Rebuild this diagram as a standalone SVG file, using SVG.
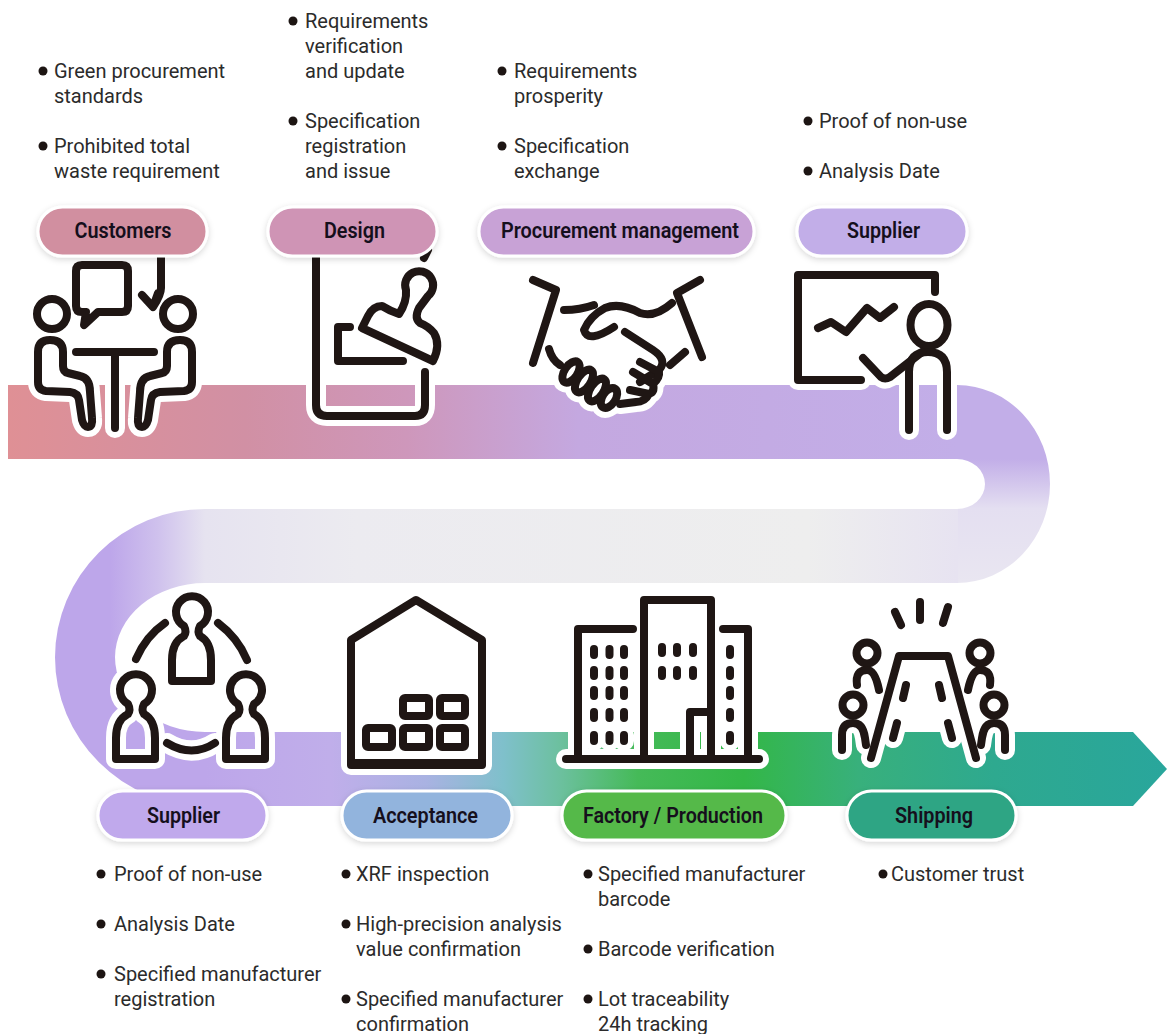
<svg xmlns="http://www.w3.org/2000/svg" width="1170" height="1034" viewBox="0 0 1170 1034">
<style>
text{font-family:Roboto,"Liberation Sans",sans-serif}
.t{font-size:20px;font-weight:400;fill:#2b2b2b}
.l{font-size:22px;font-weight:600;fill:#150f1c;text-anchor:middle}
.b{fill:#1d1513}
.p{stroke:#fff;stroke-width:3;filter:url(#sh)}
.halo,.ink{fill:none;stroke-linecap:round;stroke-linejoin:round}
.halo{stroke:#fff;stroke-width:20}
.ink{stroke:#1f1614;stroke-width:8}
</style>
<defs>
<filter id="sh" x="-20%" y="-30%" width="140%" height="170%"><feDropShadow dx="0" dy="2" stdDeviation="3" flood-color="#000" flood-opacity=".16"/></filter>
<linearGradient id="g1" gradientUnits="userSpaceOnUse" x1="8" y1="0" x2="958" y2="0">
<stop offset="0" stop-color="#df9095"/><stop offset=".25" stop-color="#d190a4"/><stop offset=".42" stop-color="#ce97bb"/><stop offset=".6" stop-color="#c4a8e0"/><stop offset="1" stop-color="#c2aee8"/></linearGradient>
<linearGradient id="g2" gradientUnits="userSpaceOnUse" x1="0" y1="459" x2="0" y2="583">
<stop offset="0" stop-color="#c2aee8"/><stop offset=".4" stop-color="#e4dff1"/><stop offset="1" stop-color="#e9e6f1"/></linearGradient>
<linearGradient id="g3" gradientUnits="userSpaceOnUse" x1="205" y1="0" x2="958" y2="0">
<stop offset="0" stop-color="#e6e3f0"/><stop offset=".2" stop-color="#ecebf0"/><stop offset=".8" stop-color="#eeeeee"/><stop offset="1" stop-color="#e7e3f1"/></linearGradient>
<linearGradient id="g4" gradientUnits="userSpaceOnUse" x1="205" y1="0" x2="110" y2="0">
<stop offset="0" stop-color="#e6e3f0"/><stop offset=".5" stop-color="#cfc1ed"/><stop offset="1" stop-color="#bda6ea"/></linearGradient>
<linearGradient id="g5" gradientUnits="userSpaceOnUse" x1="205" y1="0" x2="1167" y2="0">
<stop offset="0" stop-color="#bda6ea"/><stop offset=".13" stop-color="#c0aeea"/><stop offset=".23" stop-color="#a9b2e2"/><stop offset=".31" stop-color="#7fc0cb"/><stop offset=".37" stop-color="#6cc09e"/><stop offset=".45" stop-color="#45ba58"/><stop offset=".56" stop-color="#33b747"/><stop offset=".68" stop-color="#38b07c"/><stop offset=".82" stop-color="#2ea98f"/><stop offset="1" stop-color="#29a69c"/></linearGradient>

<g id="i1">
<path d="M84 312H82Q76 312 76 306V271Q76 265 82 265H122Q128 265 128 271V306Q128 312 122 312H98L84 325L86 312"/>
<path d="M161 240V288Q161 295 153 307M142 295L153 307L158 293"/>
<circle cx="52" cy="314" r="15"/><circle cx="178" cy="314" r="15"/>
<path id="s1" d="M50 340Q38 340 38 352V382Q38 390 46 391L70 392Q78 393 79 400L82 420Q84 427 88 427Q93 427 92 418L90 392Q90 378 80 376L68 373Q63 372 63 366V352Q63 340 50 340Z"/>
<use href="#s1" transform="translate(230 0) scale(-1 1)"/>
<path d="M76 352H154M115 352V428"/>
</g>
<g id="i2">
<path d="M316 240V405Q316 416 327 416H415Q425 416 425 405V372"/>
<path d="M428 250L424 258"/>
<path d="M350 327H338V361H403"/>
<path d="M362 328L433 361Q441 345 434 333Q428 326 420 323Q414 318 419 308L428 296A14 14 0 1 0 406 290Q407 302 399 314Q390 311 382 306Q373 306 368 316Z"/>
</g>
<g id="i3">
<path d="M533 280L556 290L533 363M700 280L677 293L702 357"/>
<path d="M564 310Q580 310 594 305"/>
<path d="M672 303Q655 318 640 313Q620 302 605 308Q590 316 584 330Q588 344 614 327"/>
<path d="M625 332L653 350Q668 360 659 370L640 382"/>
<path d="M640 362L659 372Q660 378 653 384L633 372M653 384Q655 392 649 394L630 390M649 394Q645 402 636 402L620 404"/>
<ellipse cx="571" cy="372" rx="6.500" ry="12" transform="rotate(34 571 372)"/>
<ellipse cx="584" cy="381" rx="6.500" ry="13" transform="rotate(34 584 381)"/>
<ellipse cx="597" cy="390" rx="6.500" ry="13" transform="rotate(34 597 390)"/>
<ellipse cx="609" cy="398" rx="6.500" ry="11" transform="rotate(34 609 398)"/>
<path d="M549 349Q552 360 560 365M670 365L685 352"/>
</g>
<g id="i4">
<path d="M861 380H798V275H935V292"/>
<path d="M818 328L831 322L846 332L867 308L880 318L894 307"/>
<ellipse cx="929" cy="325" rx="18.500" ry="21"/>
<path d="M909 430V372Q909 352 928 352Q947 352 947 372V430"/>
<path d="M863 358L881 377Q885 380 890 377L922 352"/>
</g>
<path id="person" d="M184 626A16 16 0 1 1 200 626Q197 632 200 636Q211 642 211 660V681H172V660Q172 642 184 636Q187 632 184 626Z"/>
<g id="i5">
<use href="#person"/>
<use href="#person" transform="translate(-56 78)"/>
<use href="#person" transform="translate(54 78)"/>
<path d="M136 659Q146 636 165 623M247 660Q238 638 218 623M167 743Q192 758 215 743"/>
</g>
<g id="i6">
<path d="M351 640L416 600L482 640V765H351Z"/>
<path d="M351 763H482"/>
<rect x="403" y="698" width="26" height="18" rx="2"/><rect x="440" y="698" width="25" height="18" rx="2"/>
<rect x="366" y="728" width="26" height="19" rx="2"/><rect x="403" y="728" width="26" height="19" rx="2"/><rect x="440" y="728" width="25" height="19" rx="2"/>
</g>
<g id="i7">
<path d="M566 759H759"/>
<path d="M644 759V600H711V759"/>
<path d="M633 629H578V759"/>
<path d="M723 629H748V759"/>
<path d="M690 759V712H707"/>
<path d="M594 649v6M609.500 649v6M624 649v6M594 670v6M609.500 670v6M624 670v6M594 690v6M609.500 690v6M624 690v6M594 712v6M609.500 712v6M624 712v6M594 735v6M609.500 735v6M624 735v6"/>
<path d="M662 647v6M677 647v6M693 647v6M662 670v6M677 670v6M693 670v6"/>
<path d="M730 649v6M730 670v6M730 690v6M730 712v6M730 735v6"/>
</g>
<g id="i8">
<path d="M895 612L901 625M920 602V620M948 607L943 623"/>
<path d="M871 758L899 656H948L976 758"/>
<path d="M906 685L903 698M897 723L893 738M939 685L942 698M948 723L952 738"/>
<g id="ppl">
<circle cx="867" cy="653" r="10.500"/>
<path d="M857 685Q855 670 867 670Q875 670 879 690"/>
<circle cx="853" cy="705" r="10.500"/>
<path d="M842 750V735Q842 723 853 723Q863 723 865 738L866 745"/>
</g>
<use href="#ppl" transform="translate(1847 0) scale(-1 1)"/>
</g>
</defs>

<rect width="1170" height="1034" fill="#fff"/>

<g id="connectors">
<rect x="8" y="385" width="950" height="74" fill="url(#g1)"/>
<path d="M957 385A93 99 0 0 1 957 583V509A28 25 0 0 0 957 459Z" fill="url(#g2)"/>
<rect x="204" y="509" width="754" height="74" fill="url(#g3)"/>
<path d="M205 509A150 148.500 0 0 0 55 657.500H115A90 74.500 0 0 1 205 583Z" fill="url(#g4)"/>
<path d="M55 657A150 149 0 0 0 205 806V732A90 75 0 0 1 115 657Z" fill="#bda6ea"/>
<path d="M204 732H1133L1167 769L1133 806H204Z" fill="url(#g5)"/>
</g>

<g id="node-customers">
<use href="#i1" class="halo"/><use href="#i1" class="ink"/>
<rect class="p" x="38" y="207" width="169" height="49" rx="24.500" fill="#d18fa0"/>
<text class="l" x="123" y="238" textLength="97" lengthAdjust="spacingAndGlyphs">Customers</text>
<circle class="b" cx="43" cy="71" r="4.500"/>
<text class="t" x="54" y="78">Green procurement</text><text class="t" x="54" y="103">standards</text>
<circle class="b" cx="43" cy="146" r="4.500"/>
<text class="t" x="54" y="153">Prohibited total</text><text class="t" x="54" y="178">waste requirement</text>
</g>

<g id="node-design">
<use href="#i2" class="halo"/><use href="#i2" class="ink"/>
<rect class="p" x="268" y="207" width="169" height="49" rx="24.500" fill="#cf94b5"/>
<text class="l" x="354.500" y="238" textLength="61" lengthAdjust="spacingAndGlyphs">Design</text>
<circle class="b" cx="293" cy="21" r="4.500"/>
<text class="t" x="305" y="28">Requirements</text><text class="t" x="305" y="53">verification</text><text class="t" x="305" y="78">and update</text>
<circle class="b" cx="293" cy="121" r="4.500"/>
<text class="t" x="305" y="128">Specification</text><text class="t" x="305" y="153">registration</text><text class="t" x="305" y="178">and issue</text>
</g>

<g id="node-procurement">
<use href="#i3" class="halo"/><use href="#i3" class="ink"/>
<rect class="p" x="479" y="207" width="275" height="49" rx="24.500" fill="#c8a2d6"/>
<text class="l" x="620" y="238" textLength="238" lengthAdjust="spacingAndGlyphs">Procurement management</text>
<circle class="b" cx="502" cy="71" r="4.500"/>
<text class="t" x="514" y="78">Requirements</text><text class="t" x="514" y="103">prosperity</text>
<circle class="b" cx="502" cy="146" r="4.500"/>
<text class="t" x="514" y="153">Specification</text><text class="t" x="514" y="178">exchange</text>
</g>

<g id="node-supplier-top">
<use href="#i4" class="halo"/><use href="#i4" class="ink"/>
<rect class="p" x="797" y="207" width="170" height="49" rx="24.500" fill="#c2aee8"/>
<text class="l" x="883.500" y="238" textLength="73" lengthAdjust="spacingAndGlyphs">Supplier</text>
<circle class="b" cx="808" cy="121" r="4.500"/>
<text class="t" x="819" y="128">Proof of non-use</text>
<circle class="b" cx="808" cy="171" r="4.500"/>
<text class="t" x="819" y="178">Analysis Date</text>
</g>

<g id="node-supplier-bottom">
<use href="#i5" class="halo"/><use href="#i5" class="ink"/>
<rect class="p" x="98" y="791" width="169" height="49" rx="24.500" fill="#c0a9ec"/>
<text class="l" x="183.500" y="823" textLength="73" lengthAdjust="spacingAndGlyphs">Supplier</text>
<circle class="b" cx="101" cy="874" r="4.500"/>
<text class="t" x="114" y="881">Proof of non-use</text>
<circle class="b" cx="101" cy="924" r="4.500"/>
<text class="t" x="114" y="931">Analysis Date</text>
<circle class="b" cx="101" cy="974" r="4.500"/>
<text class="t" x="114" y="981">Specified manufacturer</text><text class="t" x="114" y="1006">registration</text>
</g>

<g id="node-acceptance">
<path d="M351 640L416 600L482 640V765H351Z" fill="#fff"/>
<use href="#i6" class="halo"/><use href="#i6" class="ink"/>
<rect class="p" x="342" y="791" width="170" height="49" rx="24.500" fill="#92b4dd"/>
<text class="l" x="425.500" y="823" textLength="105" lengthAdjust="spacingAndGlyphs">Acceptance</text>
<circle class="b" cx="346" cy="874" r="4.500"/>
<text class="t" x="356" y="881">XRF inspection</text>
<circle class="b" cx="346" cy="924" r="4.500"/>
<text class="t" x="356" y="931">High-precision analysis</text><text class="t" x="356" y="956">value confirmation</text>
<circle class="b" cx="346" cy="999" r="4.500"/>
<text class="t" x="356" y="1006">Specified manufacturer</text><text class="t" x="356" y="1031">confirmation</text>
</g>

<g id="node-factory">
<use href="#i7" class="halo"/><use href="#i7" class="ink"/>
<rect class="p" x="562" y="791" width="224" height="49" rx="24.500" fill="#55b94a"/>
<text class="l" x="673" y="823" textLength="180" lengthAdjust="spacingAndGlyphs">Factory / Production</text>
<circle class="b" cx="588" cy="874" r="4.500"/>
<text class="t" x="598" y="881">Specified manufacturer</text><text class="t" x="598" y="906">barcode</text>
<circle class="b" cx="588" cy="949" r="4.500"/>
<text class="t" x="598" y="956">Barcode verification</text>
<circle class="b" cx="588" cy="999" r="4.500"/>
<text class="t" x="598" y="1006">Lot traceability</text><text class="t" x="598" y="1031">24h tracking</text>
</g>

<g id="node-shipping">
<use href="#i8" class="halo"/><use href="#i8" class="ink"/>
<rect class="p" x="847" y="791" width="169" height="49" rx="24.500" fill="#2fa584"/>
<text class="l" x="934" y="823" textLength="78" lengthAdjust="spacingAndGlyphs">Shipping</text>
<circle class="b" cx="883" cy="874" r="4.500"/>
<text class="t" x="891" y="881">Customer trust</text>
</g>
</svg>
